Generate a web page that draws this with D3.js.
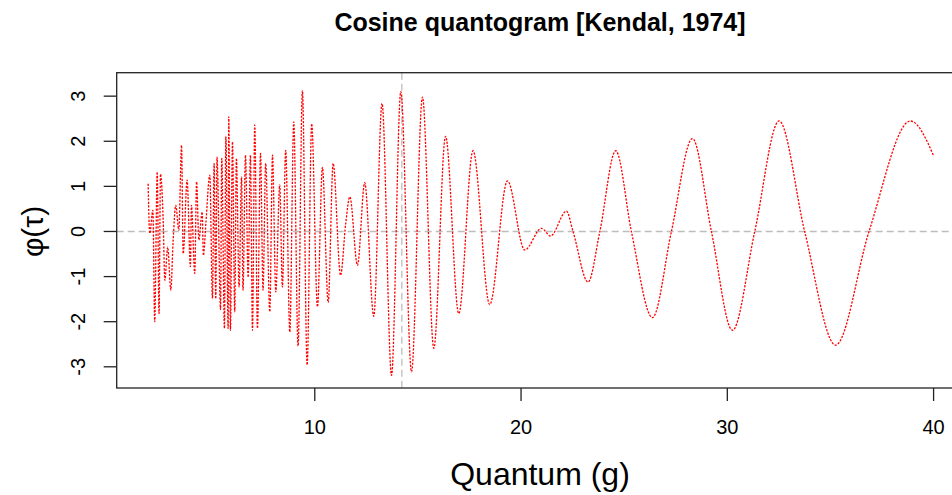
<!DOCTYPE html>
<html>
<head>
<meta charset="utf-8">
<script src="https://cdn.jsdelivr.net/npm/d3@7"></script>
<style>
  body { margin: 0; background: #fff; }
  text { font-family: 'Liberation Sans', Arial, sans-serif; fill: #000; }
</style>
</head>
<body>
<script>
// Cosine quantogram values
const quantum = [
  1.92, 2.00, 2.15, 2.24, 2.36, 2.45, 2.52, 2.65, 2.73, 2.87,
  3.02, 3.13, 3.26, 3.41, 3.54, 3.62, 3.81, 3.97, 4.02, 4.18,
  4.27, 4.38, 4.54, 4.60, 4.72, 4.91, 5.04, 5.12, 5.20, 5.26,
  5.43, 5.49, 5.62, 5.69, 5.80, 5.83, 5.91, 6.01, 6.12, 6.20,
  6.33, 6.45, 6.52, 6.64, 6.77, 6.88, 6.98, 7.09, 7.22, 7.37,
  7.49, 7.62, 7.82, 7.95, 8.11, 8.30, 8.43, 8.59, 8.79, 8.98,
  9.19, 9.40, 9.63, 9.85, 10.13, 10.37, 10.65, 10.89, 11.25, 11.50,
  11.70, 12.07, 12.42, 12.86, 13.26, 13.72, 14.17, 14.69, 15.22, 15.77,
  16.34, 16.98, 17.67, 18.48, 19.34, 20.18, 20.99, 21.43, 22.20, 22.52,
  23.25, 23.82, 24.59, 25.35, 26.37, 27.29, 28.31, 29.23, 30.25, 31.33,
  32.51, 33.75, 35.25, 36.87, 38.88, 40.00
]
const phi = [
  1.06, -0.04, 0.47, -2.00, 1.32, -1.82, 1.27, 0.25, -1.08, -0.35,
  -1.30, -0.23, 0.58, 0.03, 1.91, -0.49, 1.14, -0.78, 0.58, -0.93,
  1.10, -0.19, 0.43, -0.53, 0.18, 1.25, -1.49, 1.51, -1.49, 1.65,
  -1.73, 1.62, -2.15, 2.11, -2.15, 2.54, -2.19, 1.99, -1.78, 1.62,
  -1.23, 1.21, -1.30, 1.69, -1.01, 1.69, -2.19, 2.36, -2.15, 1.73,
  -1.30, 1.51, -1.78, 1.69, -1.34, 1.03, -1.23, 1.80, -2.23, 2.43,
  -2.54, 3.12, -2.96, 2.39, -1.67, 1.42, -1.57, 1.51, -0.97, 0.18,
  0.77, -0.75, 1.08, -1.88, 2.84, -3.19, 3.10, -3.11, 2.98, -2.59,
  2.11, -1.82, 1.79, -1.62, 1.12, -0.41, 0.07, -0.10, 0.45, 0.00,
  -1.12, 0.00, 1.79, 0.00, -1.91, 0.00, 2.06, 0.00, -2.19, 0.00,
  2.45, 0.00, -2.52, 0.00, 2.45, 1.68
]

const xTicks = [10, 20, 30, 40]
const yTicks = [-3, -2, -1, 0, 1, 2, 3]
const bestQuantum = 14.22 // vertical reference line

const titleText = 'Cosine quantogram [Kendal, 1974]'
const xLabel = 'Quantum (g)'
const yLabel = 'φ(τ)'

;(() => {
  const width = 952, height = 495
  // plot box (right edge runs past the window like the original)
  const box = { left: 116.7, right: 965, top: 72.7, bottom: 388 }

  const svg = d3.select('body').append('svg')
    .attr('width', width)
    .attr('height', height)

  // R style axis ranges: data range padded by 4%
  const xExt = d3.extent(quantum)
  const xPad = (xExt[1] - xExt[0]) * 0.04
  const x = d3.scaleLinear()
    .domain([xExt[0] - xPad, xExt[1] + xPad])
    .range([box.left, box.right])

  const y = d3.scaleLinear()
    .domain([-3.47, 3.52])
    .range([box.bottom, box.top])

  // reference lines
  svg.append('line')
    .attr('x1', box.left).attr('x2', width)
    .attr('y1', y(0)).attr('y2', y(0))
    .attr('stroke', '#bdbdbd').attr('stroke-width', 1.3)
    .attr('stroke-dasharray', '7,4')

  svg.append('line')
    .attr('x1', x(bestQuantum)).attr('x2', x(bestQuantum))
    .attr('y1', box.top).attr('y2', box.bottom)
    .attr('stroke', '#bdbdbd').attr('stroke-width', 1.3)
    .attr('stroke-dasharray', '7,4')

  // quantogram curve
  const line = d3.line()
    .x((d, i) => x(quantum[i]))
    .y(d => y(d))
    .curve(d3.curveMonotoneX)

  svg.append('path')
    .datum(phi)
    .attr('d', line)
    .attr('fill', 'none')
    .attr('stroke', '#ff0000')
    .attr('stroke-width', 1.3)
    .attr('stroke-dasharray', '2.2,1.4')

  // box
  svg.append('rect')
    .attr('x', box.left).attr('y', box.top)
    .attr('width', box.right - box.left)
    .attr('height', box.bottom - box.top)
    .attr('fill', 'none')
    .attr('stroke', '#222')
    .attr('stroke-width', 1.3)

  // x axis
  const xAxis = svg.append('g')
  xAxis.selectAll('line')
    .data(xTicks).enter().append('line')
    .attr('x1', d => x(d)).attr('x2', d => x(d))
    .attr('y1', box.bottom).attr('y2', box.bottom + 13)
    .attr('stroke', '#222').attr('stroke-width', 1.3)
  xAxis.selectAll('text')
    .data(xTicks).enter().append('text')
    .attr('x', d => x(d)).attr('y', 427)
    .attr('text-anchor', 'middle')
    .attr('dominant-baseline', 'central')
    .style('font-size', '20px')
    .text(d => d)

  // y axis
  const yAxis = svg.append('g')
  yAxis.selectAll('line')
    .data(yTicks).enter().append('line')
    .attr('x1', box.left - 13).attr('x2', box.left)
    .attr('y1', d => y(d)).attr('y2', d => y(d))
    .attr('stroke', '#222').attr('stroke-width', 1.3)
  yAxis.selectAll('text')
    .data(yTicks).enter().append('text')
    .attr('transform', d => `translate(78,${y(d)}) rotate(-90)`)
    .attr('text-anchor', 'middle')
    .attr('dominant-baseline', 'central')
    .style('font-size', '20px')
    .text(d => d)

  // titles
  svg.append('text')
    .attr('x', 540).attr('y', 22)
    .attr('text-anchor', 'middle')
    .attr('dominant-baseline', 'central')
    .style('font-size', '25px')
    .style('font-weight', 'bold')
    .text(titleText)

  svg.append('text')
    .attr('x', 540).attr('y', 474)
    .attr('text-anchor', 'middle')
    .attr('dominant-baseline', 'central')
    .style('font-size', '32px')
    .text(xLabel)

  svg.append('text')
    .attr('transform', `translate(32,${y(0)}) rotate(-90)`)
    .attr('text-anchor', 'middle')
    .attr('dominant-baseline', 'central')
    .style('font-size', '30px')
    .text(yLabel)
})()
</script>
</body>
</html>
